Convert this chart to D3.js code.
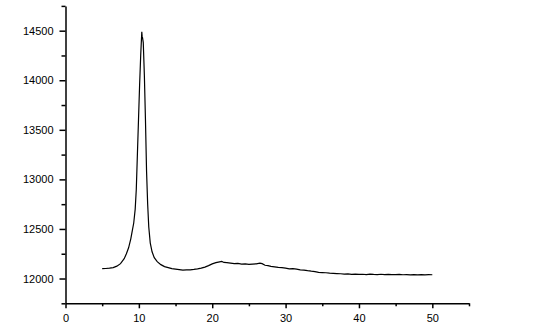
<!DOCTYPE html>
<html>
<head>
<meta charset="utf-8">
<script src="https://cdn.jsdelivr.net/npm/d3@7"></script>
<style>
  body { margin: 0; background: #fff; }
  svg { display: block; }
  .axis text { font-family: "Liberation Sans", Arial, sans-serif; font-size: 11px; fill: #000; }
</style>
</head>
<body>
<div id="chart"></div>
<script>
// data
const xs = [5.0, 5.5, 6.0, 6.5, 7.0, 7.5, 8.0, 8.3, 8.6, 8.9, 9.1, 9.3, 9.5, 9.65, 9.8, 9.95,
  10.1, 10.25, 10.4, 10.45, 10.5, 10.6, 10.75, 10.9, 11.05, 11.2, 11.35, 11.55, 11.8, 12.1,
  12.5, 13.0, 13.5, 14.0, 14.5, 15.0, 15.5, 16.0, 16.5, 17.0, 17.5, 18.0, 18.5, 19.0, 19.5,
  20.0, 20.5, 21.0, 21.3, 21.6, 22.0, 22.5, 23.0, 23.5, 24.0, 24.5, 25.0, 25.5, 26.0, 26.5,
  26.8, 27.2, 27.6, 28.0, 28.5, 29.0, 29.5, 30.0, 30.5, 31.0, 31.5, 32.0, 32.5, 33.0, 33.5,
  34.0, 34.5, 35.0, 35.5, 36.0, 36.5, 37.0, 37.5, 38.0, 38.5, 39.0, 39.5, 40.0, 40.5, 41.0,
  41.5, 42.0, 42.5, 43.0, 43.5, 44.0, 44.5, 45.0, 45.5, 46.0, 46.5, 47.0, 47.5, 48.0, 48.5,
  49.0, 49.5, 50.0];
const ys = [12100, 12101, 12104, 12110, 12125, 12150, 12200, 12250, 12310, 12400, 12480, 12560,
  12700, 12900, 13250, 13600, 13950, 14250, 14490, 14440, 14430, 14380, 14050, 13600, 13080,
  12750, 12520, 12360, 12270, 12210, 12170, 12140, 12120, 12110, 12100, 12095, 12090, 12085,
  12087, 12088, 12092, 12097, 12105, 12115, 12130, 12148, 12160, 12168, 12172, 12162, 12160,
  12155, 12150, 12152, 12146, 12148, 12143, 12146, 12148, 12155, 12150, 12134, 12130, 12122,
  12118, 12112, 12110, 12104, 12098, 12100, 12095, 12088, 12085, 12079, 12074, 12070, 12062,
  12060, 12058, 12054, 12052, 12050, 12048, 12044, 12046, 12042, 12045, 12041, 12043, 12040,
  12044, 12041, 12040, 12043, 12039, 12041, 12040, 12039, 12041, 12038, 12040, 12036, 12039,
  12037, 12040, 12037, 12039, 12038];
const xTicks = [0, 10, 20, 30, 40, 50];
const xMinor = [5, 15, 25, 35, 45, 55];
const yTicks = [12000, 12500, 13000, 13500, 14000, 14500];
const yMinor = [11750, 12250, 12750, 13250, 13750, 14250, 14750];

const width = 543, height = 335;
const x = d3.scaleLinear().domain([0, 55]).range([65.5, 469]);
const y = d3.scaleLinear().domain([11750, 14750]).range([303.3, 5.9]);

const svg = d3.select('#chart').append('svg')
    .attr('width', width)
    .attr('height', height);

// minor ticks
svg.append('g')
    .attr('class', 'axis')
    .attr('transform', `translate(0, ${y(11750)})`)
    .call(d3.axisBottom(x).tickValues(xMinor).tickSize(3).tickFormat(''))
    .call(g => g.select('.domain').remove());
svg.append('g')
    .attr('class', 'axis')
    .attr('transform', `translate(${x(0)}, 0)`)
    .call(d3.axisLeft(y).tickValues(yMinor).tickSize(4).tickFormat(''))
    .call(g => g.select('.domain').remove());

// major axes
svg.append('g')
    .attr('class', 'axis')
    .attr('transform', `translate(0, ${y(11750)})`)
    .call(d3.axisBottom(x).tickValues(xTicks).tickSize(5).tickSizeOuter(0).tickPadding(6).tickFormat(d3.format('d')));
svg.append('g')
    .attr('class', 'axis')
    .attr('transform', `translate(${x(0)}, 0)`)
    .call(d3.axisLeft(y).tickValues(yTicks).tickSize(6).tickSizeOuter(0).tickPadding(6).tickFormat(d3.format('d')));

svg.selectAll('.axis path, .axis line')
    .attr('stroke', '#000')
    .attr('stroke-width', 1.5);

const line = d3.line()
    .x((d, i) => x(xs[i]))
    .y(d => y(d));

svg.append('path')
    .datum(ys)
    .attr('fill', 'none')
    .attr('stroke', '#000')
    .attr('stroke-width', 1.2)
    .attr('d', line);
</script>
</body>
</html>
